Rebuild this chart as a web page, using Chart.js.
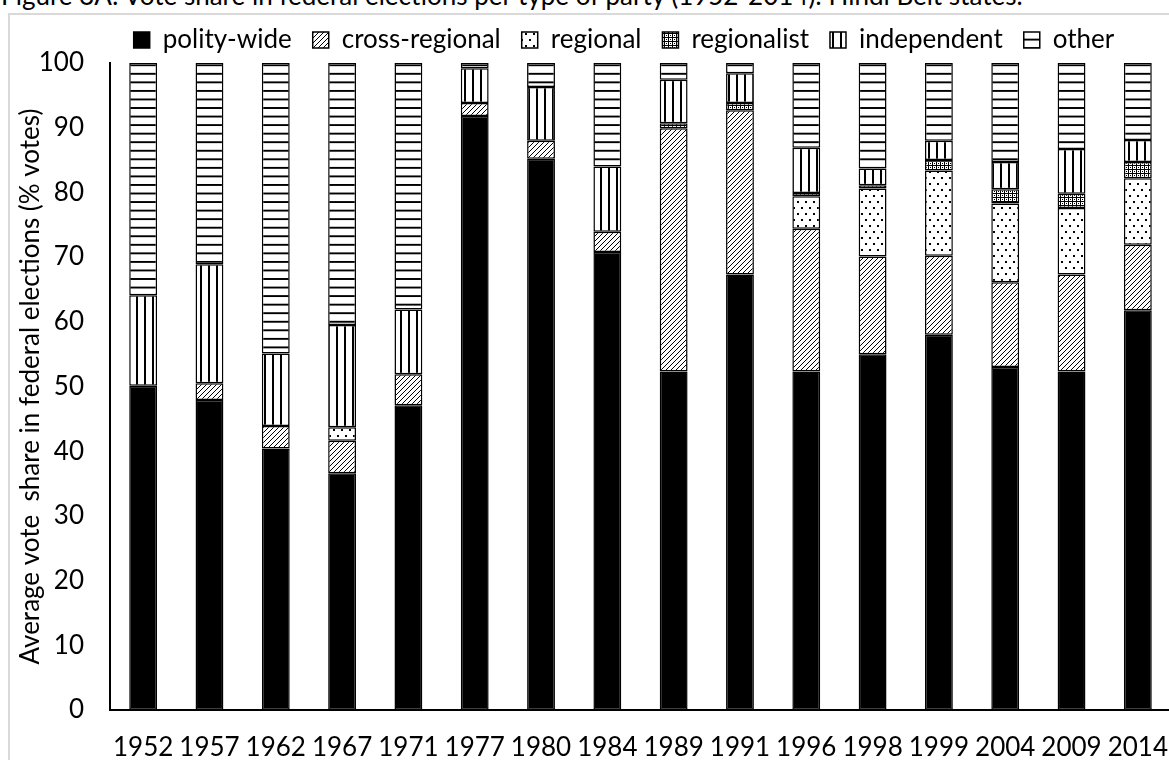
<!DOCTYPE html>
<html>
<head>
<meta charset="utf-8">
<script src="https://cdn.jsdelivr.net/npm/chart.js@4"></script>
<style>
    html, body { margin: 0; padding: 0; background: #fff; overflow: hidden; }
    body { width: 1169px; height: 760px; position: relative; }
    #title {
        position: absolute; left: 1px; top: -21px;
        font: 26px Lato, sans-serif; line-height: 32px; color: #000; white-space: nowrap;
    }
    #frame {
        position: absolute; left: 8px; top: 13px; width: 1240px; height: 800px;
        border: 2px solid #d9d9d9; box-sizing: border-box;
    }
    #myChart { position: absolute; left: 8px; top: 13px; }
</style>
</head>
<body>
<div id="title">Figure 3A: Vote share in federal elections per type of party (1952-2014): Hindi Belt states.</div>
<div id="frame"></div>
<canvas id="myChart" width="1232" height="747"></canvas>
<script>
// election years
const years = ['1952', '1957', '1962', '1967', '1971', '1977', '1980', '1984',
    '1989', '1991', '1996', '1998', '1999', '2004', '2009', '2014'];

// vote share (%) per party type
const polityWide   = [50.1, 47.9, 40.4, 36.6, 47.1, 91.8, 85.2, 70.8, 52.3, 67.3, 52.3, 55.0, 58.0, 53.0, 52.3, 61.8];
const crossRegional = [0, 2.6, 3.5, 5.0, 4.8, 2.0, 2.8, 3.1, 37.6, 25.4, 22.1, 15.1, 12.2, 13.1, 15.0, 10.1];
const regional     = [0, 0, 0, 2.1, 0, 0, 0, 0, 0, 0, 5.0, 10.5, 13.2, 12.2, 10.3, 10.3];
const regionalist  = [0, 0, 0, 0, 0, 0, 0, 0, 0.8, 1.1, 0.5, 0.5, 1.6, 2.2, 2.2, 2.5];
const independent  = [14.0, 18.4, 11.2, 15.8, 10.0, 5.4, 8.3, 10.1, 6.7, 4.6, 7.0, 2.6, 3.0, 4.2, 6.9, 3.4];
const other        = [35.9, 31.1, 44.9, 40.5, 38.1, 0.8, 3.7, 16.0, 2.6, 1.6, 13.1, 16.3, 12.0, 15.3, 13.3, 11.9];

const yTicks = [0, 10, 20, 30, 40, 50, 60, 70, 80, 90, 100];

////////////////////////////////////////////////////////////////////////////////////////
// black & white fill patterns (Excel style)

function makePattern(w, h, draw, scaleY) {
    const c = document.createElement('canvas');
    c.width = w;
    c.height = h;
    const g = c.getContext('2d');
    g.fillStyle = '#fff';
    g.fillRect(0, 0, w, h);
    g.fillStyle = '#000';
    g.strokeStyle = '#000';
    draw(g, w, h);
    const p = g.createPattern(c, 'repeat');
    if (scaleY) p.setTransform(new DOMMatrix().scale(1, scaleY));
    return p;
}

const diagPattern = makePattern(5, 5, (g) => {
    g.lineWidth = 1;
    g.beginPath();
    g.moveTo(-1, 6); g.lineTo(6, -1);
    g.moveTo(-1, 1); g.lineTo(1, -1);
    g.moveTo(4, 6); g.lineTo(6, 4);
    g.stroke();
});

const dotPattern = makePattern(8, 12, (g) => {
    g.fillRect(1, 2, 2, 2);
    g.fillRect(5, 8, 2, 2);
});

const meshPattern = makePattern(4, 4, (g) => {
    g.fillRect(0, 0, 4, 1);
    g.fillRect(0, 0, 1, 4);
    g.fillRect(2, 2, 1, 1);
});

const vertPattern = makePattern(8, 1, (g) => {
    g.fillRect(0, 0, 2, 1);
});

const horizPattern = makePattern(1, 9, (g) => {
    g.fillRect(0, 0, 1, 2);
}, 0.95);

////////////////////////////////////////////////////////////////////////////////////////

const FONT = { family: 'Lato, sans-serif', size: 26 };

function series(label, data, fill) {
    return {
        label: label,
        data: data,
        backgroundColor: fill,
        borderColor: '#000',
        borderWidth: 1.5,
        borderSkipped: false,
        categoryPercentage: 1,
        barPercentage: 0.42
    };
}

const ctx = document.getElementById('myChart').getContext('2d');

const myChart = new Chart(ctx, {
    type: 'bar',
    data: {
        labels: years,
        datasets: [
            series('polity-wide', polityWide, '#000'),
            series('cross-regional', crossRegional, diagPattern),
            series('regional', regional, dotPattern),
            series('regionalist', regionalist, meshPattern),
            series('independent', independent, vertPattern),
            series('other', other, horizPattern)
        ]
    },
    options: {
        responsive: false,
        animation: false,
        layout: { padding: { top: -7, left: 0, right: 0, bottom: 0 } },
        plugins: {
            legend: {
                position: 'top',
                labels: {
                    font: FONT,
                    color: '#000',
                    boxWidth: 16,
                    boxHeight: 16,
                    padding: 21
                }
            },
            tooltip: { enabled: false }
        },
        scales: {
            x: {
                stacked: true,
                grid: { display: false, drawTicks: false },
                border: { display: true, color: '#000', width: 2 },
                ticks: { font: FONT, color: '#000', padding: 22, maxRotation: 0 },
                afterFit: (s) => { s.height = 50; }
            },
            y: {
                stacked: true,
                min: 0,
                max: 100,
                grid: { display: false, drawTicks: false },
                border: { display: true, color: '#000', width: 2 },
                afterBuildTicks: (s) => { s.ticks = yTicks.map(v => ({ value: v })); },
                ticks: { font: FONT, color: '#000', padding: 26 },
                title: {
                    display: true,
                    text: 'Average vote  share in federal elections (% votes)',
                    font: FONT,
                    color: '#000',
                    padding: { top: 7, bottom: 0 }
                },
                afterFit: (s) => { s.width = 102; }
            },
            // empty right-hand axis, only to keep the plot clear of the right edge
            yRight: {
                position: 'right',
                grid: { display: false, drawTicks: false },
                border: { display: false },
                ticks: { display: false },
                afterFit: (s) => { s.width = 69; }
            }
        }
    }
});
</script>
</body>
</html>
